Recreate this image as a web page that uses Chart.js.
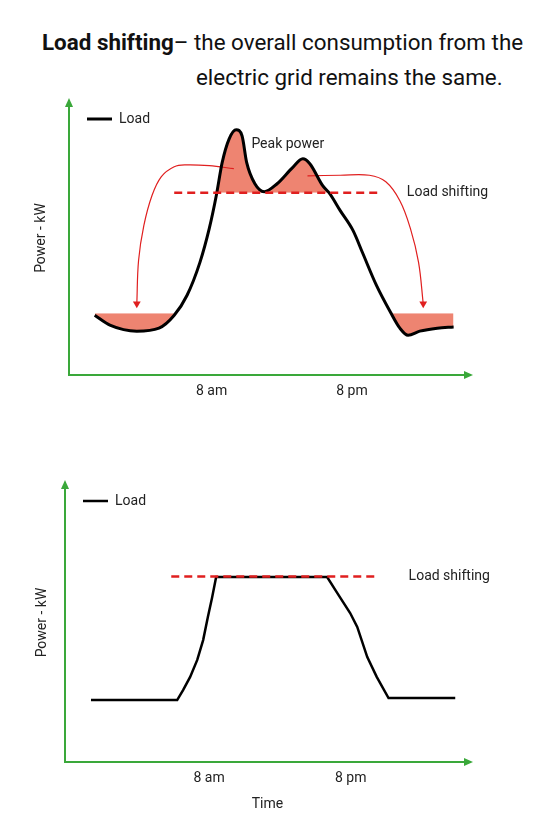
<!DOCTYPE html>
<html>
<head>
<meta charset="utf-8">
<script src="https://cdn.jsdelivr.net/npm/chart.js@4/dist/chart.umd.min.js"></script>
<style>
  html, body { margin: 0; padding: 0; background: #fff; }
  body { width: 560px; height: 840px; position: relative; overflow: hidden; font-family: Roboto, "Noto Sans", sans-serif; color: #111; }
  .t { position: absolute; font-size: 22.4px; line-height: 34px; white-space: nowrap; }
  #c1wrap { position: absolute; left: 0; top: 90px; width: 560px; height: 330px; }
  #c2wrap { position: absolute; left: 0; top: 470px; width: 560px; height: 350px; }
</style>
</head>
<body>
<div class="t" style="left:42px; top:25px;"><b>Load shifting</b>– the overall consumption from the</div>
<div class="t" style="left:196px; top:60px;">electric grid remains the same.</div>
<div id="c1wrap"><canvas id="c1" width="560" height="330"></canvas></div>
<div id="c2wrap"><canvas id="c2" width="560" height="350"></canvas></div>
<script>
// ---------- data ----------
const tickHours = [8, 20];
const tickLabels = ['8 am', '8 pm'];
const capacityKw = 66.5;      // load-shifting level
const baseFillKw = 22.5;      // level of shifted energy
const capacityHours = [4.8, 22.4];

// chart 1: original load
const loadHours1 = [-2.0, -0.7, 1.6, 3.5, 4.8, 5.9, 7.0, 7.8, 8.4, 8.9, 9.5, 10.1, 10.6, 11.0, 11.7, 12.5, 13.6, 14.9, 15.8, 16.4, 17.5, 18.1, 19.0, 20.1, 20.9, 22.1, 23.3, 24.1, 24.8, 25.8, 27.3, 28.7];
const loadKw1    = [21.8, 18.2, 16.0, 17.1, 21.8, 29.1, 41.1, 53.5, 65.5, 77.5, 86.2, 89.5, 87.3, 77.5, 69.8, 66.9, 69.8, 75.6, 78.9, 77.1, 69.1, 66.2, 60.0, 52.7, 44.7, 32.7, 22.9, 17.1, 14.5, 16.0, 17.1, 17.5];
// index ranges of the shaded parts of the load curve
const peakRange  = [8, 21];
const nightRange1 = [0, 4];
const nightRange2 = [26, 31];

// arrows (shift paths)
const arrowLeftHours  = [9.9, 7.8, 5.8, 4.8, 3.7, 2.9, 2.2, 1.75, 1.6];
const arrowLeftKw     = [75.3, 76.4, 76.7, 76.0, 72.4, 65.5, 54.5, 41.8, 26.0];
const arrowRightHours = [16.2, 19.0, 21.5, 22.9, 24.1, 25.0, 25.7, 26.1];
const arrowRightKw    = [72.7, 72.9, 72.9, 70.5, 63.6, 53.5, 41.1, 26.0];

// chart 2: shifted load
const loadHours2 = [-2.0, 5.3, 5.8, 6.4, 7.0, 7.5, 7.9, 8.25, 8.6, 18.0, 18.85, 19.95, 20.55, 21.4, 22.2, 23.2, 28.85];
const loadKw2    = [22.2, 22.2, 25.8, 30.5, 36.6, 43.7, 52.0, 58.8, 66.3, 66.3, 60.6, 53.4, 48.4, 37.6, 30.5, 22.9, 22.9];

// ---------- helpers ----------
const pts = (xs, ys) => xs.map((x, i) => ({ x, y: ys[i] }));
const sub = (xs, ys, r) => pts(xs.slice(r[0], r[1] + 1), ys.slice(r[0], r[1] + 1));
const GREEN = '#3aa83a';
const RED = '#e01f1f';
const SALMON = '#ee8471';
const NONE = 'rgba(0,0,0,0)';
const TEXT = '#222';
const FONT = 'Roboto, "Noto Sans", sans-serif';

const axisArrows = {
  id: 'axisArrows',
  afterLayout(chart) {
    if (chart.legend) { chart.legend.top = chart.chartArea.top - 7; }
  },
  afterDraw(chart) {
    const { ctx, chartArea: a } = chart;
    ctx.save();
    ctx.fillStyle = GREEN;
    ctx.beginPath();
    ctx.moveTo(a.left, a.top - 3);
    ctx.lineTo(a.left - 4, a.top + 6);
    ctx.lineTo(a.left + 4, a.top + 6);
    ctx.closePath(); ctx.fill();
    ctx.beginPath();
    ctx.moveTo(a.right + 3, a.bottom);
    ctx.lineTo(a.right - 6, a.bottom - 4);
    ctx.lineTo(a.right - 6, a.bottom + 4);
    ctx.closePath(); ctx.fill();
    ctx.restore();
  }
};

const notes = {
  id: 'notes',
  afterDatasetsDraw(chart, args, opts) {
    const { ctx, scales: { x, y } } = chart;
    ctx.save();
    ctx.fillStyle = TEXT;
    ctx.font = '14px ' + FONT;
    ctx.textAlign = 'left';
    ctx.textBaseline = 'middle';
    (opts.items || []).forEach(n => ctx.fillText(n.text, x.getPixelForValue(n.x), y.getPixelForValue(n.y)));
    ctx.restore();
  }
};

function makeOptions(o) {
  return {
    responsive: false,
    animation: false,
    layout: { padding: { left: 0, right: 90, top: o.top, bottom: 0 } },
    plugins: {
      filler: { drawTime: 'beforeDatasetsDraw' },
      tooltip: { enabled: false },
      legend: {
        position: 'chartArea',
        align: 'start',
        labels: {
          filter: (item) => item.text === 'Load',
          usePointStyle: true,
          pointStyle: 'line',
          pointStyleWidth: 25,
          padding: 18,
          color: TEXT,
          font: { size: 14, family: FONT }
        }
      },
      notes: { items: o.notes }
    },
    scales: {
      x: {
        type: 'linear',
        min: -4.2,
        max: 30.1,
        afterFit: (s) => { s.height = o.xHeight; },
        afterBuildTicks: (s) => { s.ticks = tickHours.map(v => ({ value: v })); },
        grid: { display: false },
        border: { color: GREEN, width: 2 },
        ticks: {
          padding: 0,
          color: TEXT,
          font: { size: 14, family: FONT },
          callback: (v) => tickLabels[tickHours.indexOf(v)] || ''
        },
        title: o.xTitle ? { display: true, text: 'Time', color: TEXT, font: { size: 14, family: FONT }, padding: { top: 0, bottom: 7 } } : { display: false }
      },
      y: {
        min: 0,
        max: 100,
        afterFit: (s) => { s.width = o.yWidth; },
        grid: { display: false },
        border: { color: GREEN, width: 2 },
        ticks: { display: false },
        title: { display: true, text: 'Power - kW', color: TEXT, font: { size: 14, family: FONT }, padding: { top: o.yTitlePad, bottom: 0 } }
      }
    }
  };
}

const lineBase = { pointRadius: 0, pointHoverRadius: 0 };
const arrowSet = (label, data) => ({
  label, data, borderColor: RED, borderWidth: 1.2, tension: 0.38,
  pointStyle: 'triangle', backgroundColor: RED,
  pointRotation: 180,
  pointBorderWidth: 0,
  pointRadius: (c) => c.dataIndex === data.length - 1 ? 4.5 : 0,
  pointHoverRadius: 0, fill: false
});
const shade = (label, data, fill) => Object.assign({ label, data, borderWidth: 0, borderColor: NONE, cubicInterpolationMode: 'monotone', fill }, lineBase);

new Chart(document.getElementById('c1'), {
  type: 'line',
  data: {
    datasets: [
      Object.assign({ label: 'Load shifting', data: pts(capacityHours, [capacityKw, capacityKw]), borderColor: RED, borderWidth: 2.5, borderDash: [8, 5], fill: false }, lineBase),
      Object.assign({ label: 'Load', data: pts(loadHours1, loadKw1), borderColor: '#000', borderWidth: 3, cubicInterpolationMode: 'monotone', fill: false }, lineBase),
      arrowSet('shift-left', pts(arrowLeftHours, arrowLeftKw)),
      arrowSet('shift-right', pts(arrowRightHours, arrowRightKw)),
      shade('Peak', sub(loadHours1, loadKw1, peakRange), { target: { value: capacityKw }, above: SALMON, below: NONE }),
      shade('Shifted 1', sub(loadHours1, loadKw1, nightRange1), { target: { value: baseFillKw }, above: NONE, below: SALMON }),
      shade('Shifted 2', sub(loadHours1, loadKw1, nightRange2), { target: { value: baseFillKw }, above: NONE, below: SALMON })
    ]
  },
  options: makeOptions({ top: 11, xHeight: 45, yWidth: 69, yTitlePad: 33, xTitle: false,
    notes: [ { text: 'Peak power', x: 11.4, y: 84 }, { text: 'Load shifting', x: 24.7, y: capacityKw } ] }),
  plugins: [axisArrows, notes]
});

new Chart(document.getElementById('c2'), {
  type: 'line',
  data: {
    datasets: [
      Object.assign({ label: 'Load shifting', data: pts(capacityHours, [capacityKw, capacityKw]), borderColor: RED, borderWidth: 2.5, borderDash: [8, 5], fill: false }, lineBase),
      Object.assign({ label: 'Load', data: pts(loadHours2, loadKw2), borderColor: '#000', borderWidth: 2.5, tension: 0, fill: false }, lineBase)
    ]
  },
  options: makeOptions({ top: 13, xHeight: 58, yWidth: 65, yTitlePad: 34, xTitle: true,
    notes: [ { text: 'Load shifting', x: 24.9, y: capacityKw } ] }),
  plugins: [axisArrows, notes]
});
</script>
</body>
</html>
